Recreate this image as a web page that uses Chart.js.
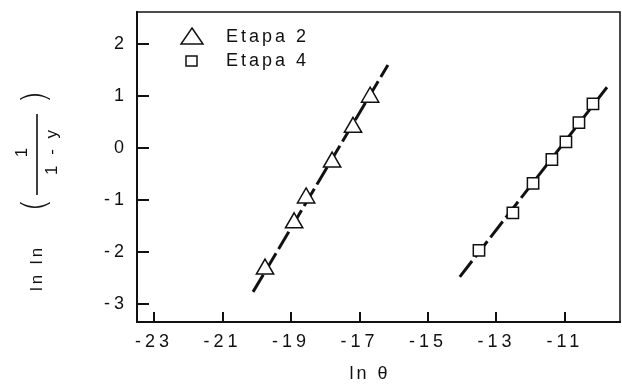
<!DOCTYPE html>
<html>
<head>
<meta charset="utf-8">
<script src="https://cdn.jsdelivr.net/npm/chart.js@4.4.1/dist/chart.umd.min.js"></script>
<style>
  html, body { margin: 0; padding: 0; background: #fff; }
  #wrap { width: 622px; height: 385px; }
</style>
</head>
<body>
<div id="wrap"><canvas id="chart" width="622" height="385"></canvas></div>
<script>
// data
const xTicks = [-23, -21, -19, -17, -15, -13, -11];
const yTicks = [-3, -2, -1, 0, 1, 2];

const etapa2X = [-19.76, -18.91, -18.56, -17.80, -17.19, -16.69];
const etapa2Y = [-2.33, -1.44, -0.96, -0.27, 0.40, 0.98];
const etapa4X = [-13.51, -12.52, -11.93, -11.38, -10.97, -10.59, -10.18];
const etapa4Y = [-1.97, -1.25, -0.68, -0.22, 0.12, 0.49, 0.85];

// dashed fit lines (end points)
const fit2X = [-20.11, -16.17];
const fit2Y = [-2.77, 1.60];
const fit4X = [-14.07, -9.77];
const fit4Y = [-2.48, 1.17];

const ink = '#111';
const toXY = (xs, ys) => xs.map((x, i) => ({ x: x, y: ys[i] }));

// frame, inward ticks, legend and axis titles
const decorations = {
    id: 'decorations',
    beforeDraw(chart) {
        chart.ctx.letterSpacing = '4px';
    },
    afterDraw(chart) {
        const ctx = chart.ctx;
        const a = chart.chartArea;
        const xs = chart.scales.x, ys = chart.scales.y;
        ctx.save();
        ctx.strokeStyle = ink;
        ctx.fillStyle = ink;

        // top and right border
        ctx.lineWidth = 1.5;
        ctx.beginPath();
        ctx.moveTo(a.left, a.top);
        ctx.lineTo(a.right, a.top);
        ctx.lineTo(a.right, a.bottom);
        ctx.stroke();

        // inward ticks
        ctx.lineWidth = 2;
        ctx.beginPath();
        xTicks.forEach(v => {
            const px = Math.round(xs.getPixelForValue(v));
            ctx.moveTo(px, a.bottom);
            ctx.lineTo(px, a.bottom - 10);
        });
        yTicks.forEach(v => {
            const py = Math.round(ys.getPixelForValue(v));
            ctx.moveTo(a.left, py);
            ctx.lineTo(a.left + 12, py);
        });
        ctx.stroke();

        // legend
        ctx.lineWidth = 1.5;
        ctx.beginPath();
        ctx.moveTo(192, 28);
        ctx.lineTo(203, 44);
        ctx.lineTo(181, 44);
        ctx.closePath();
        ctx.stroke();
        ctx.strokeRect(186, 56, 11, 10);

        ctx.letterSpacing = '3px';
        ctx.font = '18px "Liberation Sans", Arial, sans-serif';
        ctx.textBaseline = 'middle';
        ctx.textAlign = 'left';
        ctx.fillText('Etapa 2', 226, 37);
        ctx.fillText('Etapa 4', 226, 61);

        // x title
        ctx.textAlign = 'center';
        ctx.font = '18px "Liberation Sans", Arial, sans-serif';
        ctx.fillText('ln θ', 370, 374);

        // y title (rotated)
        const rot = (t, x, y, font) => {
            ctx.save();
            ctx.translate(x, y);
            ctx.rotate(-Math.PI / 2);
            ctx.font = font;
            ctx.textAlign = 'center';
            ctx.textBaseline = 'middle';
            ctx.fillText(t, 0, 0);
            ctx.restore();
        };
        const f = '17px "Liberation Sans", Arial, sans-serif';
        rot('ln ln', 37, 268, f);
        rot('1', 22, 151, f);
        rot('1 - y', 52, 151, f);
        ctx.letterSpacing = '0px';
        rot('(', 37, 205, '300 34px "DejaVu Sans", sans-serif');
        rot(')', 37, 97, '300 34px "DejaVu Sans", sans-serif');
        ctx.lineWidth = 1.6;
        ctx.beginPath();
        ctx.moveTo(37, 114);
        ctx.lineTo(37, 195);
        ctx.stroke();

        ctx.restore();
    }
};

const ctx = document.getElementById('chart').getContext('2d');
const chart = new Chart(ctx, {
    type: 'scatter',
    data: {
        datasets: [{
            label: 'Etapa 2',
            data: toXY(etapa2X, etapa2Y),
            pointStyle: 'triangle',
            radius: 10,
            borderColor: ink,
            backgroundColor: '#fff',
            borderWidth: 1.5,
            order: 1
        }, {
            label: 'Etapa 4',
            data: toXY(etapa4X, etapa4Y),
            pointStyle: 'rect',
            radius: 8,
            borderColor: ink,
            backgroundColor: '#fff',
            borderWidth: 1.5,
            order: 1
        }, {
            label: 'fit 2',
            data: toXY(fit2X, fit2Y),
            showLine: true,
            pointRadius: 0,
            borderColor: ink,
            borderWidth: 3,
            borderDash: [20, 5],
            order: 2
        }, {
            label: 'fit 4',
            data: toXY(fit4X, fit4Y),
            showLine: true,
            pointRadius: 0,
            borderColor: ink,
            borderWidth: 3,
            borderDash: [20, 5],
            order: 2
        }]
    },
    options: {
        responsive: false,
        animation: false,
        layout: { autoPadding: false, padding: { top: 12, right: 2, left: 0, bottom: 0 } },
        plugins: {
            legend: { display: false },
            tooltip: { enabled: false }
        },
        scales: {
            x: {
                type: 'linear',
                min: -23.5,
                max: -9.39,
                afterBuildTicks: s => { s.ticks = xTicks.map(v => ({ value: v })); },
                afterFit: s => { s.height = 63; s.paddingLeft = 0; s.paddingRight = 0; },
                grid: { display: false, drawTicks: false },
                border: { display: true, color: ink, width: 2 },
                ticks: {
                    color: ink,
                    padding: 9,
                    font: { family: '"Liberation Sans", Arial, sans-serif', size: 18 },
                    maxRotation: 0
                }
            },
            y: {
                type: 'linear',
                min: -3.35,
                max: 2.62,
                afterBuildTicks: s => { s.ticks = yTicks.map(v => ({ value: v })); },
                afterFit: s => { s.width = 137; s.paddingTop = 0; s.paddingBottom = 0; },
                grid: { display: false, drawTicks: false },
                border: { display: true, color: ink, width: 2 },
                ticks: {
                    color: ink,
                    padding: 9,
                    font: { family: '"Liberation Sans", Arial, sans-serif', size: 18 }
                }
            }
        }
    },
    plugins: [decorations]
});
</script>
</body>
</html>
